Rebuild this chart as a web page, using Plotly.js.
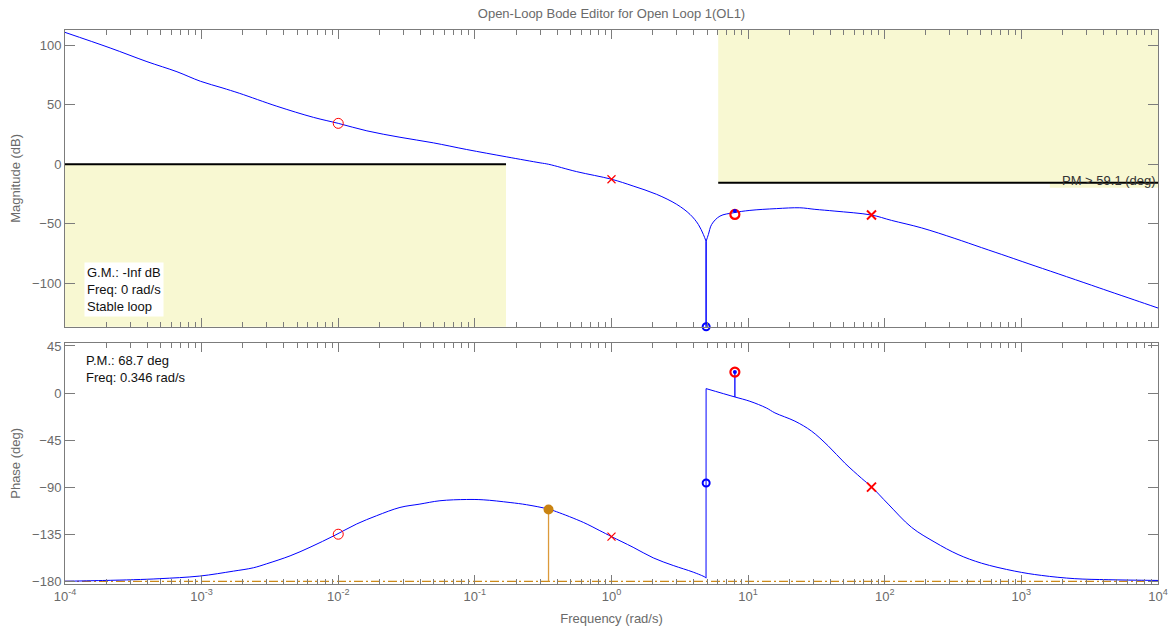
<!DOCTYPE html>
<html>
<head>
<meta charset="utf-8">
<script src="https://cdn.plot.ly/plotly-3.0.1.min.js"></script>
<style>html,body{margin:0;padding:0;background:#fff;}#chart{width:1175px;height:634px;}</style>
</head>
<body>
<div id="chart"></div>
<script>
// ---- Data ----
const magFreq = [1e-4, 2.14e-4, 3.98e-4, 6.6e-4, 9.8e-4, 1.41e-3, 1.9e-3, 3.55e-3, 6.6e-3, 0.01, 0.0162, 0.0283, 0.0497, 0.0871, 0.171, 0.3, 0.346, 0.556, 1.0, 1.44, 2.14, 3.0, 3.76, 4.32, 4.70, 4.92, 4.925, 4.93, 5.12, 5.41, 6.22, 7.8, 10.3, 16.1, 23.9, 30.8, 43.2, 80, 112, 186, 326, 511, 800, 1119, 1858, 3258, 4305, 6761, 10000];
const magDb   = [110.9, 97.8, 86.3, 77.8, 69.8, 64.3, 59.6, 48.8, 39.4, 34.4, 28.1, 22.7, 18.0, 12.4, 6.2, 1.2, 0.0, -6.2, -12.6, -18.3, -25.3, -33.7, -42.2, -50.6, -59.0, -64.7, -160, -64.7, -59.0, -50.6, -43.6, -40.8, -38.8, -37.3, -36.6, -37.9, -39.4, -42.7, -47.2, -53.5, -62.4, -70.1, -77.7, -83.5, -92.1, -101.7, -106.5, -114.2, -120.9];

const phaseFreq = [1e-4, 1.18e-4, 3.16e-4, 4.95e-4, 9.7e-4, 1.71e-3, 2.39e-3, 2.99e-3, 4.44e-3, 6.21e-3, 9.46e-3, 0.01365, 0.0191, 0.0283, 0.0396, 0.0555, 0.0871, 0.115, 0.181, 0.239, 0.344, 0.396, 0.622, 0.822, 1.0, 1.44, 2.02, 2.83, 3.97, 4.83, 4.92, 4.925, 8.0, 10.3, 13.6, 15.7, 22.0, 29.1, 38.5, 51.0, 67.6, 80, 106, 157, 233, 344, 511, 895, 1403, 2460, 4315, 10000];
const phaseDeg  = [-179.9, -179.8, -178.5, -177.5, -175.0, -170.3, -167.1, -163.3, -155.7, -147.5, -136.0, -125.2, -117.3, -109.4, -106.2, -103.0, -101.8, -102.1, -104.7, -106.8, -110.9, -113.5, -123.7, -131.6, -137.3, -147.5, -157.6, -164.9, -171.3, -176.0, -177.0, 4.2, -3.8, -7.9, -14.3, -19.0, -26.9, -36.4, -50.5, -67.0, -81.5, -89.7, -106.2, -128.4, -142.7, -154.4, -162.7, -170.3, -174.4, -177.5, -178.5, -179.2];

// compensator / plant root markers
const thinZeroFreq = [0.01],  thinZeroMag = [34.4],   thinZeroPhase = [-135];
const thinPoleFreq = [1],     thinPoleMag = [-12.6],  thinPolePhase = [-137.3];
const notchZeroFreq = [4.93], notchZeroPhase = [-86];
const boldZeroFreq = [8],     boldZeroMag = [-42.2],  boldZeroPhase = [20];
const blueTagFreq = [8],      blueTagMag = [-39.4],   blueTagPhase = [20], blueStemBase = [-3.8];
const boldPoleFreq = [80],    boldPoleMag = [-42.7],  boldPolePhase = [-90];
const pmFreq = [0.346],       pmPhase = [-111.3];
const crossoverPhase = -180;

// design requirement bounds
const gainBoundFreq = 0.169, gainBoundDb = 0;
const pmBoundFreq = 6.04, pmBoundDb = -15.5;
const pmLabelFreq = 1615, pmLabelLowDb = -19.7;

const xTickVals = [1e-4, 1e-3, 1e-2, 1e-1, 1, 10, 100, 1000, 10000];
const xTickText = ['10<sup>-4</sup>','10<sup>-3</sup>','10<sup>-2</sup>','10<sup>-1</sup>','10<sup>0</sup>','10<sup>1</sup>','10<sup>2</sup>','10<sup>3</sup>','10<sup>4</sup>'];
const magTicks = [-100, -50, 0, 50, 100];
const phaseTicks = [-180, -135, -90, -45, 0, 45];

const magRange = [-136.6, 112.9];
const phaseRange = [-182.6, 48.1];

// ---- styling ----
const axisGray = '#7c7c7c';
const textGray = '#6a6a6a';
const fontFam = 'Liberation Sans, Arial, sans-serif';
const blue = '#0000ff', red = '#ff0000', orange = '#c98311', bandYellow = '#f8f8d2';
const fMin = xTickVals[0], fMax = xTickVals[xTickVals.length - 1];

const minorVals = [];
for (let k = -4; k < 4; k++) for (let m = 2; m <= 9; m++) minorVals.push(m * Math.pow(10, k));

function xAxis(showLabels, anchor) {
  return {
    type: 'log', range: [-4, 4], anchor: anchor,
    tickvals: xTickVals, ticktext: xTickText, showticklabels: showLabels,
    ticks: 'inside', ticklen: 9, tickwidth: 1, tickcolor: axisGray,
    minor: {tickvals: minorVals, ticks: 'inside', ticklen: 5, tickcolor: axisGray, showgrid: false},
    showline: true, linecolor: axisGray, linewidth: 1, mirror: 'allticks',
    showgrid: false, zeroline: false,
    tickfont: {family: fontFam, size: 13, color: textGray}
  };
}
function yAxis(range, ticks, domain, title, anchor) {
  return {
    range: range, domain: domain, anchor: anchor, tickvals: ticks,
    ticks: 'inside', ticklen: 10, tickwidth: 1, tickcolor: axisGray,
    showline: true, linecolor: axisGray, linewidth: 1, mirror: 'allticks',
    showgrid: false, zeroline: false,
    tickfont: {family: fontFam, size: 13, color: textGray},
    title: {text: title, font: {family: fontFam, size: 13, color: textGray}, standoff: 8}
  };
}

// split a curve at a discontinuity: smooth pieces plus a straight jump
function curvePieces(xs, ys, brk, xa, ya) {
  const smooth = {color: blue, width: 1, shape: 'spline', smoothing: 1};
  if (ys[brk + 2] !== undefined && Math.abs(ys[brk + 1] - ys[brk + 2]) > 50) {
    // notch: a drop out of range and back
    return [
      {x: xs.slice(0, brk + 1), y: ys.slice(0, brk + 1), xaxis: xa, yaxis: ya, mode: 'lines', line: smooth},
      {x: xs.slice(brk, brk + 3), y: ys.slice(brk, brk + 3), xaxis: xa, yaxis: ya, mode: 'lines', line: {color: blue, width: 1}},
      {x: xs.slice(brk + 2), y: ys.slice(brk + 2), xaxis: xa, yaxis: ya, mode: 'lines', line: smooth}
    ];
  }
  return [
    {x: xs.slice(0, brk + 1), y: ys.slice(0, brk + 1), xaxis: xa, yaxis: ya, mode: 'lines', line: smooth},
    {x: xs.slice(brk, brk + 2), y: ys.slice(brk, brk + 2), xaxis: xa, yaxis: ya, mode: 'lines', line: {color: blue, width: 1}},
    {x: xs.slice(brk + 1), y: ys.slice(brk + 1), xaxis: xa, yaxis: ya, mode: 'lines', line: smooth}
  ];
}

const magBreak = magDb.indexOf(Math.min.apply(null, magDb)) - 1;   // point before the notch drop
const phaseBreak = phaseFreq.indexOf(4.92);                        // point before the phase jump

const traces = [].concat(
  curvePieces(magFreq, magDb, magBreak, 'x', 'y'),
  [
  {x: thinZeroFreq, y: thinZeroMag, xaxis: 'x', yaxis: 'y', mode: 'markers', marker: {symbol: 'circle-open', size: 10, color: red, line: {width: 1, color: red}}},
  {x: thinPoleFreq, y: thinPoleMag, xaxis: 'x', yaxis: 'y', mode: 'markers', marker: {symbol: 'x-thin-open', size: 8, color: red, line: {width: 1.2, color: red}}},
  {x: notchZeroFreq, y: [magRange[0]], xaxis: 'x', yaxis: 'y', mode: 'markers', cliponaxis: false, marker: {symbol: 'circle-open', size: 7, color: blue, line: {width: 2, color: blue}}},
  {x: boldZeroFreq, y: boldZeroMag, xaxis: 'x', yaxis: 'y', mode: 'markers', marker: {symbol: 'circle-open', size: 9, color: red, line: {width: 2.2, color: red}}},
  {x: blueTagFreq, y: blueTagMag, xaxis: 'x', yaxis: 'y', mode: 'markers', marker: {symbol: 'circle', size: 4, color: blue}},
  {x: boldPoleFreq, y: boldPoleMag, xaxis: 'x', yaxis: 'y', mode: 'markers', marker: {symbol: 'x-thin-open', size: 9, color: red, line: {width: 2, color: red}}},
  // phase
  {x: [fMin, fMax], y: [crossoverPhase, crossoverPhase], xaxis: 'x2', yaxis: 'y2', mode: 'lines', line: {color: '#cc8a1a', width: 1.3, dash: '9px,3px,2px,3px'}},
  {x: [pmFreq[0], pmFreq[0]], y: [pmPhase[0], crossoverPhase], xaxis: 'x2', yaxis: 'y2', mode: 'lines', line: {color: '#dc9a3a', width: 1.3}}
  ],
  curvePieces(phaseFreq, phaseDeg, phaseBreak, 'x2', 'y2'),
  [
  {x: [blueTagFreq[0], blueTagFreq[0]], y: [blueStemBase[0], blueTagPhase[0]], xaxis: 'x2', yaxis: 'y2', mode: 'lines', line: {color: blue, width: 1.3}},
  {x: pmFreq, y: pmPhase, xaxis: 'x2', yaxis: 'y2', mode: 'markers', marker: {symbol: 'circle', size: 10, color: orange}},
  {x: thinZeroFreq, y: thinZeroPhase, xaxis: 'x2', yaxis: 'y2', mode: 'markers', marker: {symbol: 'circle-open', size: 10, color: red, line: {width: 1, color: red}}},
  {x: thinPoleFreq, y: thinPolePhase, xaxis: 'x2', yaxis: 'y2', mode: 'markers', marker: {symbol: 'x-thin-open', size: 8, color: red, line: {width: 1.2, color: red}}},
  {x: notchZeroFreq, y: notchZeroPhase, xaxis: 'x2', yaxis: 'y2', mode: 'markers', marker: {symbol: 'circle-open', size: 7, color: blue, line: {width: 2, color: blue}}},
  {x: boldZeroFreq, y: boldZeroPhase, xaxis: 'x2', yaxis: 'y2', mode: 'markers', marker: {symbol: 'circle-open', size: 9, color: red, line: {width: 2.2, color: red}}},
  {x: blueTagFreq, y: blueTagPhase, xaxis: 'x2', yaxis: 'y2', mode: 'markers', marker: {symbol: 'circle', size: 4, color: blue}},
  {x: boldPoleFreq, y: boldPolePhase, xaxis: 'x2', yaxis: 'y2', mode: 'markers', marker: {symbol: 'x-thin-open', size: 9, color: red, line: {width: 2, color: red}}}
  ]
);

const shapes = [
  {type: 'rect', xref: 'x', yref: 'y', x0: fMin, x1: gainBoundFreq, y0: magRange[0] - 50, y1: gainBoundDb, fillcolor: bandYellow, line: {width: 0}, layer: 'below'},
  {type: 'line', xref: 'x', yref: 'y', x0: fMin, x1: gainBoundFreq, y0: gainBoundDb, y1: gainBoundDb, line: {color: '#000', width: 2}},
  {type: 'rect', xref: 'x', yref: 'y', x0: pmBoundFreq, x1: fMax, y0: pmBoundDb, y1: magRange[1] + 50, fillcolor: bandYellow, line: {width: 0}, layer: 'below'},
  {type: 'rect', xref: 'x', yref: 'y', x0: pmLabelFreq, x1: fMax, y0: pmLabelLowDb, y1: pmBoundDb, fillcolor: bandYellow, line: {width: 0}, layer: 'below'},
  {type: 'line', xref: 'x', yref: 'y', x0: pmBoundFreq, x1: fMax, y0: pmBoundDb, y1: pmBoundDb, line: {color: '#000', width: 2}}
];

const annotations = [
  {xref: 'x', yref: 'y', x: -3.861, y: -82.4, xanchor: 'left', yanchor: 'top', align: 'left', showarrow: false,
   text: 'G.M.: -Inf dB<br>Freq: 0 rad/s<br>Stable loop', bgcolor: '#ffffff', borderpad: 2,
   font: {family: fontFam, size: 13, color: '#111'}},
  {xref: 'x', yref: 'y', x: 4, y: -13.4, xanchor: 'right', yanchor: 'middle', showarrow: false,
   text: 'PM > 59.1 (deg)', borderpad: 1,
   font: {family: fontFam, size: 13, color: '#333'}},
  {xref: 'x2', yref: 'y2', x: -3.861, y: 40.5, xanchor: 'left', yanchor: 'top', align: 'left', showarrow: false,
   text: 'P.M.: 68.7 deg<br>Freq: 0.346 rad/s',
   font: {family: fontFam, size: 13, color: '#111'}}
];

const figH = 634, marginTop = 30, marginBottom = 50, plotH = figH - marginTop - marginBottom;
const magDomain = [1 - (326.7 - marginTop) / plotH, 1];
const phaseDomain = [0, 1 - (342.7 - marginTop) / plotH];

const xa1 = xAxis(false, 'y');
const xa2 = xAxis(true, 'y2');
xa2.title = {text: 'Frequency (rad/s)', font: {family: fontFam, size: 13, color: textGray}, standoff: 11};

const layout = {
  width: 1175, height: figH,
  margin: {l: 65, r: 17, t: marginTop, b: marginBottom},
  paper_bgcolor: '#fff', plot_bgcolor: '#fff',
  showlegend: false, hovermode: false,
  title: {text: 'Open-Loop Bode Editor for Open Loop 1(OL1)', font: {family: fontFam, size: 13, color: textGray},
          x: 0.5, xref: 'paper', y: 1 - 13 / figH, yref: 'container', yanchor: 'middle'},
  xaxis: xa1,
  xaxis2: Object.assign(xa2, {matches: 'x'}),
  yaxis: yAxis(magRange, magTicks, magDomain, 'Magnitude (dB)', 'x'),
  yaxis2: yAxis(phaseRange, phaseTicks, phaseDomain, 'Phase (deg)', 'x2'),
  shapes: shapes, annotations: annotations
};

Plotly.newPlot('chart', traces, layout, {staticPlot: true, displayModeBar: false});
</script>
</body>
</html>
